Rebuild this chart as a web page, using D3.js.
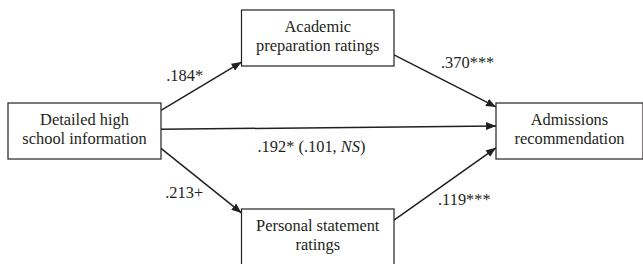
<!DOCTYPE html>
<html>
<head>
<meta charset="utf-8">
<script src="https://cdn.jsdelivr.net/npm/d3@7/dist/d3.min.js"></script>
<style>
  body { margin: 0; background: #fff; }
  svg { display: block; font-family: "Liberation Serif", "Times New Roman", serif; }
</style>
</head>
<body>
<div id="chart"></div>
<script>
// nodes of the path model
var nodeIds = ["source", "academic", "personal", "outcome"];
var nodeLabels = [
  ["Detailed high", "school information"],
  ["Academic", "preparation ratings"],
  ["Personal statement", "ratings"],
  ["Admissions", "recommendation"]
];
var nodeColumns = ["left", "middle", "middle", "right"];
var nodeRows = ["center", "top", "bottom", "center"];

// paths: from, to, coefficient text (parts, italic flag)
var pathFrom = ["source", "academic", "source", "source", "personal"];
var pathTo = ["academic", "outcome", "outcome", "personal", "outcome"];
var pathLabels = [
  [[".184*", false]],
  [[".370***", false]],
  [[".192* (.101, ", false], ["NS", true], [")", false]],
  [[".213+", false]],
  [[".119***", false]]
];

var width = 643, height = 264;

// layout
var colX = d3.scaleOrdinal().domain(["left", "middle", "right"]).range([8, 241.5, 496]);
var colW = d3.scaleOrdinal().domain(["left", "middle", "right"]).range([153, 152.5, 147]);
var rowY = d3.scaleOrdinal().domain(["top", "center", "bottom"]).range([10, 103, 209]);
var boxH = 56;
var lineH = 19;
var fontSize = 16.4;
// where each arrow leaves / enters a box (fraction of box height)
var attachFrom = [0.13, 0.8, 0.47, 0.81, 0.2];
var attachTo = [0.93, 0.07, 0.41, 0.07, 0.8];
// label anchor offsets from the arrow midpoint
var labelDx = [-35, -4, -71, -36, -7];
var labelDy = [-5, -13, 24, 17, 21];

var ink = "#231f20";

var svg = d3.select("#chart").append("svg")
  .attr("width", width)
  .attr("height", height);

svg.append("defs").append("marker")
  .attr("id", "arrow")
  .attr("viewBox", "0 0 10 8")
  .attr("refX", 10)
  .attr("refY", 4)
  .attr("markerWidth", 10)
  .attr("markerHeight", 8)
  .attr("markerUnits", "userSpaceOnUse")
  .attr("orient", "auto")
  .append("path")
  .attr("d", "M0,0L10,4L0,8Z")
  .attr("fill", ink);

var nodes = nodeIds.map(function(id, i) {
  var x = colX(nodeColumns[i]), y = rowY(nodeRows[i]);
  return { id: id, x: x, y: y, w: colW(nodeColumns[i]), h: boxH, lines: nodeLabels[i] };
});
var byId = {};
nodes.forEach(function(n) { byId[n.id] = n; });

var edges = pathFrom.map(function(f, i) {
  var a = byId[f], b = byId[pathTo[i]];
  return {
    x1: a.x + a.w, y1: a.y + a.h * attachFrom[i],
    x2: b.x, y2: b.y + b.h * attachTo[i],
    label: pathLabels[i], dx: labelDx[i], dy: labelDy[i]
  };
});

// arrows
svg.append("g").selectAll("line").data(edges).enter().append("line")
  .attr("x1", function(d) { return d.x1; })
  .attr("y1", function(d) { return d.y1; })
  .attr("x2", function(d) { return d.x2; })
  .attr("y2", function(d) { return d.y2; })
  .attr("stroke", ink)
  .attr("stroke-width", 1.5)
  .attr("marker-end", "url(#arrow)");

// boxes
var box = svg.append("g").selectAll("g").data(nodes).enter().append("g");
box.append("rect")
  .attr("x", function(d) { return d.x; })
  .attr("y", function(d) { return d.y; })
  .attr("width", function(d) { return d.w; })
  .attr("height", function(d) { return d.h; })
  .attr("fill", "#fff")
  .attr("stroke", ink)
  .attr("stroke-width", 1.2);
box.each(function(d) {
  var g = d3.select(this);
  var n = d.lines.length;
  d.lines.forEach(function(t, i) {
    g.append("text")
      .attr("x", d.x + d.w / 2)
      .attr("y", d.y + d.h / 2 + (i - (n - 1) / 2) * lineH + 3.5)
      .attr("text-anchor", "middle")
      .attr("font-size", fontSize)
      .attr("fill", ink)
      .text(t);
  });
});

// coefficients
var lab = svg.append("g").selectAll("text").data(edges).enter().append("text")
  .attr("x", function(d) { return (d.x1 + d.x2) / 2 + d.dx; })
  .attr("y", function(d) { return (d.y1 + d.y2) / 2 + d.dy; })
  .attr("font-size", fontSize)
  .attr("fill", ink);
lab.each(function(d) {
  var t = d3.select(this);
  d.label.forEach(function(p) {
    t.append("tspan").attr("font-style", p[1] ? "italic" : "normal").text(p[0]);
  });
});
</script>
</body>
</html>
